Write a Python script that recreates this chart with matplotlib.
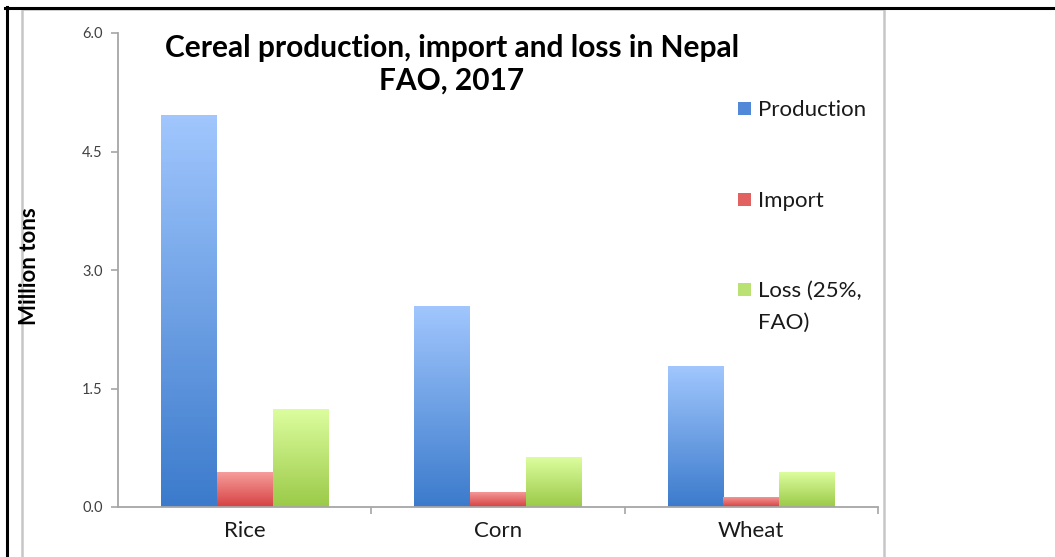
import numpy as np
import matplotlib.pyplot as plt
from matplotlib.colors import LinearSegmentedColormap
from matplotlib.patches import Rectangle
from matplotlib.lines import Line2D

plt.rcParams['font.family'] = ['Lato', 'DejaVu Sans']

## Data
crops = ['Rice', 'Corn', 'Wheat']
production = [4.96, 2.54, 1.78]
imports = [0.44, 0.19, 0.13]
loss = [1.24, 0.63, 0.44]
series_names = ['Production', 'Import', 'Loss (25%,\nFAO)']
yticks = [0.0, 1.5, 3.0, 4.5, 6.0]

# (top colour, bottom colour, legend colour)
shades = [('#a0c6fd', '#3c7bcc', '#5188d8'),
          ('#f59d9b', '#d64242', '#e26262'),
          ('#dcfd9e', '#9bca48', '#b9e174')]

fig = plt.figure(figsize=(10.55, 5.57), dpi=100)

## Page frame (black table lines + grey chart border)
fig.add_artist(Line2D([5/1055, 1054/1055], [1 - 7.5/557] * 2, color='black', lw=2.2))
fig.add_artist(Line2D([6.5/1055] * 2, [0, 1 - 7/557], color='black', lw=2.2))
fig.add_artist(Rectangle((21.5/1055, -0.01), (883.5 - 21.5)/1055, 1.01 - 9/557,
                         transform=fig.transFigure, fill=False,
                         edgecolor='#c6c6c6', lw=1.8))

ax = fig.add_axes([118/1055, 50/557, 760/1055, 474/557])

x = np.arange(len(crops))
w = 0.22
bars = []
for i, vals in enumerate([production, imports, loss]):
    bars.append(ax.bar(x + (i - 1) * w, vals, w, color='none', edgecolor='none'))

# vertical gradient inside every bar
for i, cont in enumerate(bars):
    top, bottom, _ = shades[i]
    cmap = LinearSegmentedColormap.from_list('g%d' % i, [bottom, top])
    grad = np.linspace(1, 0, 100).reshape(-1, 1)
    for p in cont.patches:
        x0, y0 = p.get_x(), p.get_y()
        im = ax.imshow(grad, cmap=cmap, vmin=0, vmax=1, aspect='auto',
                       extent=[x0, x0 + p.get_width(), y0, y0 + p.get_height()],
                       zorder=2)
        im.set_clip_path(p)
ax.set_xlim(-0.5, 2.5)
ax.set_ylim(0, 6)

## Axes styling
for s in ['top', 'right']:
    ax.spines[s].set_visible(False)
for s in ['left', 'bottom']:
    ax.spines[s].set_color('#a6a6a6')
    ax.spines[s].set_linewidth(1.3)
ax.set_yticks(yticks)
ax.set_yticklabels(['%.1f' % v for v in yticks], fontsize=10.5, color='#404040')
ax.tick_params(axis='y', length=5, width=1.2, color='#a6a6a6', pad=6)
ax.set_xticks(x)
ax.set_xticklabels(crops, fontsize=16, color='#1a1a1a')
ax.tick_params(axis='x', length=0, pad=10)
ax.set_xticks([0.5, 1.5, 2.5], minor=True)
ax.tick_params(axis='x', which='minor', length=5, width=1.2, color='#a6a6a6')

fig.text(30/1055, 1 - 266/557, 'Million tons', rotation=90, fontsize=16,
         fontweight='bold', ha='center', va='center')

## Title
fig.text(452/1055, 1 - 48/557, 'Cereal production, import and loss in Nepal',
         fontsize=21.5, fontweight='bold', ha='center', va='center')
fig.text(452/1055, 1 - 81/557, 'FAO, 2017', fontsize=21.5, fontweight='bold',
         ha='center', va='center')

## Legend
leg_y = [109, 200, 290]
for name, (_, _, col), yy in zip(series_names, shades, leg_y):
    fig.add_artist(Rectangle((738/1055, 1 - (yy + 6)/557), 13/1055, 13/557,
                             transform=fig.transFigure, facecolor=col,
                             edgecolor='none'))
    fig.text(758/1055, 1 - (yy - 9)/557, name, fontsize=16, ha='left', va='top',
             color='#1a1a1a', linespacing=1.75)

fig.savefig('out.png', dpi=100)
